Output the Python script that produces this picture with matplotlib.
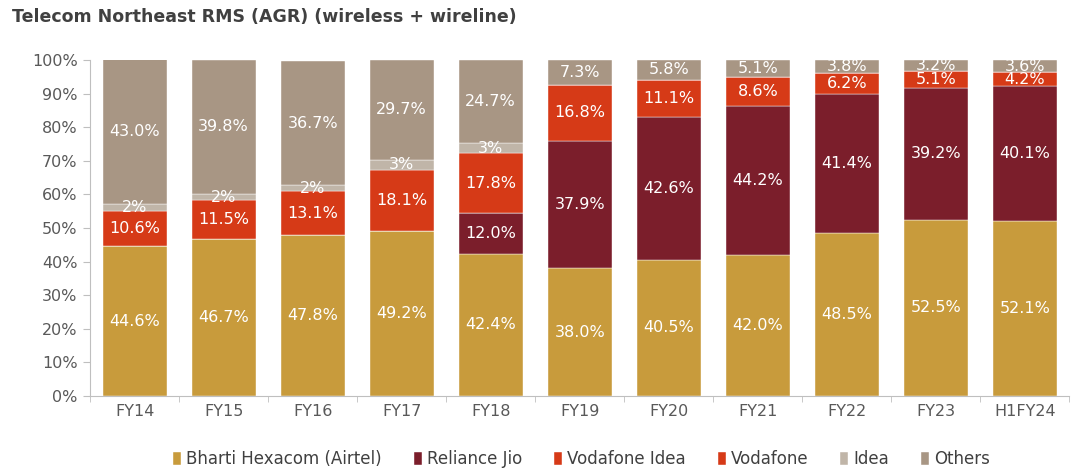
import matplotlib.pyplot as plt
import numpy as np

plt.rcParams['font.family'] = ['DejaVu Sans']

years = ['FY14', 'FY15', 'FY16', 'FY17', 'FY18', 'FY19', 'FY20', 'FY21', 'FY22', 'FY23', 'H1FY24']
airtel = [44.6, 46.7, 47.8, 49.2, 42.4, 38.0, 40.5, 42.0, 48.5, 52.5, 52.1]
jio = [0, 0, 0, 0, 12.0, 37.9, 42.6, 44.2, 41.4, 39.2, 40.1]
vil = [0, 0, 0, 0, 0, 16.8, 11.1, 8.6, 6.2, 5.1, 4.2]
vodafone = [10.6, 11.5, 13.1, 18.1, 17.8, 0, 0, 0, 0, 0, 0]
idea = [2, 2, 2, 3, 3, 0, 0, 0, 0, 0, 0]
others = [43.0, 39.8, 36.7, 29.7, 24.7, 7.3, 5.8, 5.1, 3.8, 3.2, 3.6]

series = [
    ('Bharti Hexacom (Airtel)', airtel, '#C89B3C', '{:.1f}%'),
    ('Reliance Jio', jio, '#7B1E2B', '{:.1f}%'),
    ('Vodafone Idea', vil, '#D63A17', '{:.1f}%'),
    ('Vodafone', vodafone, '#D63A17', '{:.1f}%'),
    ('Idea', idea, '#C0B5A8', '{:.0f}%'),
    ('Others', others, '#A89684', '{:.1f}%'),
]

fig = plt.figure(figsize=(10.81, 4.70), dpi=100)
ax = fig.add_axes([0.0833, 0.1574, 0.906, 0.7149])

x = np.arange(len(years))
bottom = np.zeros(len(years))
for name, vals, color, fmt in series:
    vals = np.array(vals, dtype=float)
    ax.bar(x, vals, 0.72, bottom=bottom, color=color, label=name,
           edgecolor='white', linewidth=0.3)
    for xi, b, v in zip(x, bottom, vals):
        if v > 0:
            ax.text(xi, b + v / 2, fmt.format(v), ha='center', va='center',
                    color='white', fontsize=11.5)
    bottom += vals

ax.set_xlim(-0.5, len(years) - 0.5)
ax.set_ylim(0, 100)
ax.set_yticks(np.arange(0, 101, 10))
ax.set_yticklabels([f'{t}%' for t in range(0, 101, 10)])
ax.set_xticks(x)
ax.set_xticklabels(years)
ax.set_xticks(np.arange(-0.5, len(years), 1), minor=True)
ax.tick_params(axis='x', which='major', length=0, pad=6)
ax.tick_params(axis='x', which='minor', length=4, color='#BFBFBF')
ax.tick_params(axis='y', length=5, color='#BFBFBF', pad=4)
ax.tick_params(labelsize=11.5, labelcolor='#595959')
for s in ['top', 'right']:
    ax.spines[s].set_visible(False)
for s in ['left', 'bottom']:
    ax.spines[s].set_color('#BFBFBF')

fig.text(0.011, 0.963, 'Telecom Northeast RMS (AGR) (wireless + wireline)',
         fontsize=12.5, fontweight='bold', color='#404040', va='center')

leg = fig.legend(loc='center', bbox_to_anchor=(0.538, 0.023), ncol=6, frameon=False,
                 fontsize=12, handlelength=0.5, handleheight=0.9, handletextpad=0.3,
                 columnspacing=1.9)
for t in leg.get_texts():
    t.set_color('#404040')

fig.savefig('out.png', dpi=100)
